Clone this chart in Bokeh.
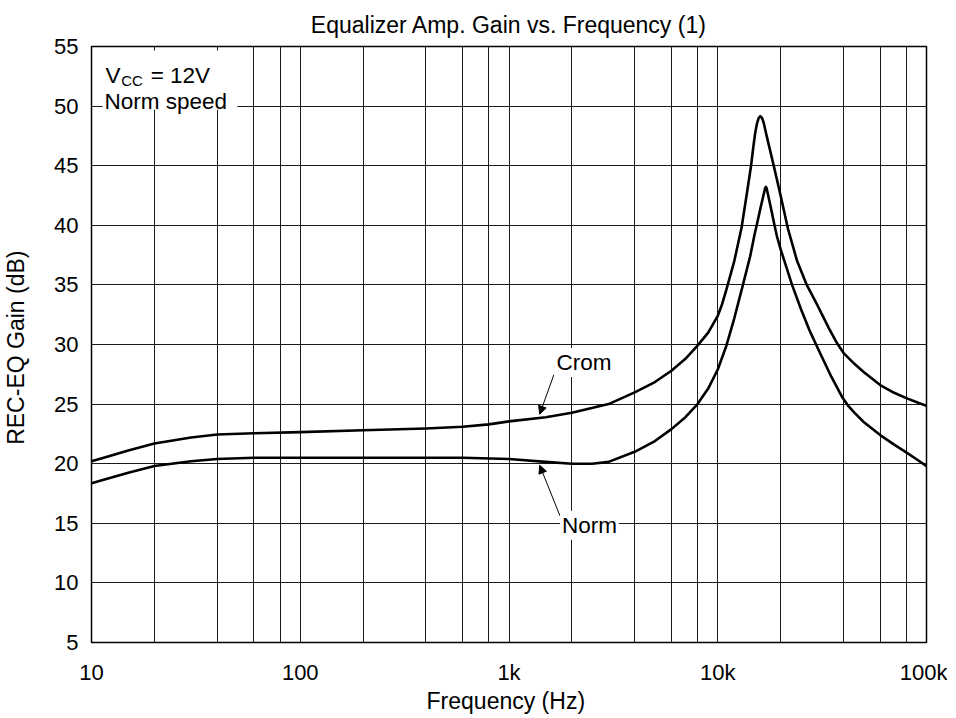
from bokeh.plotting import figure
from bokeh.models import FixedTicker, Label, Arrow, NormalHead, BoxAnnotation
from bokeh.embed import file_html
from bokeh.resources import INLINE

# ---- data ----
crom_freq = [10, 12, 15, 20, 30, 40, 60, 100, 200, 400, 600, 800, 1000, 1500,
             2000, 3000, 4000, 5000, 6000, 7000, 8000, 9000, 10000, 10500,
             11000, 12000, 13000, 13770, 14440, 14800, 15100, 15400, 15700,
             16000, 16300, 16600, 16900, 17150, 18600, 20000, 21700, 24000,
             26700, 30000, 34000, 37300, 40000, 45000, 50000, 60000, 70000,
             80000, 90000, 100000]
crom_gain = [20.2, 20.6, 21.1, 21.7, 22.2, 22.45, 22.55, 22.65, 22.8, 22.95,
             23.1, 23.3, 23.55, 23.9, 24.28, 25.0, 25.98, 26.85, 27.8, 28.8,
             29.9, 31.0, 32.4, 33.4, 34.6, 37.0, 39.8, 42.6, 45.0, 46.55,
             47.7, 48.5, 49.0, 49.16, 49.0, 48.6, 48.0, 47.5, 44.9, 42.5,
             39.7, 37.0, 35.0, 33.3, 31.4, 30.1, 29.3, 28.4, 27.7, 26.6,
             25.95, 25.5, 25.15, 24.85]

norm_freq = [10, 12, 15, 20, 30, 40, 60, 100, 200, 400, 600, 1000, 1500, 2000,
             2500, 3000, 4000, 5000, 6000, 7000, 8000, 9000, 10000, 11000,
             12000, 13200, 14300, 15000, 15500, 16000, 16400, 16700, 16850,
             17000, 17150, 17300, 17700, 18200, 18700, 19200, 20000, 22700,
             25000, 27500, 30500, 35000, 37000, 39400, 42000, 45000, 50000,
             60000, 70000, 80000, 90000, 100000]
norm_gain = [18.35, 18.75, 19.25, 19.8, 20.2, 20.4, 20.5, 20.5, 20.5, 20.5,
             20.5, 20.4, 20.15, 20.0, 20.0, 20.15, 21.0, 21.9, 22.9, 23.9,
             25.0, 26.3, 27.9, 29.9, 32.2, 35.0, 37.4, 39.2, 40.3, 41.4, 42.2,
             42.8, 43.1, 43.22, 43.1, 42.8, 42.0, 41.0, 40.0, 39.1, 38.0,
             35.0, 33.0, 31.2, 29.5, 27.3, 26.5, 25.6, 24.9, 24.3, 23.5, 22.4,
             21.6, 20.95, 20.35, 19.8]

x_ticks = [10, 100, 1000, 10000, 100000]
x_tick_labels = ["10", "100", "1k", "10k", "100k"]
x_minor = [20, 40, 60, 80, 200, 400, 600, 800, 2000, 4000, 6000, 8000,
           20000, 40000, 60000, 80000]
y_ticks = [5, 10, 15, 20, 25, 30, 35, 40, 45, 50, 55]

FONT = "Liberation Sans"

p = figure(x_axis_type="log", x_range=(10, 100000), y_range=(5, 55),
           frame_width=835, frame_height=596,
           min_border_left=84, min_border_right=21, min_border_top=46,
           min_border_bottom=60,
           output_backend="svg", toolbar_location=None,
           title="Equalizer Amp. Gain vs. Frequency (1)")

p.title.align = "center"
p.title.text_font = FONT
p.title.text_font_size = "23px"
p.title.text_font_style = "normal"
p.title.text_color = "black"
p.title.standoff = 17

p.xaxis.ticker = FixedTicker(ticks=x_ticks, minor_ticks=x_minor)
p.xaxis.major_label_overrides = dict(zip(x_ticks, x_tick_labels))
p.yaxis.ticker = FixedTicker(ticks=y_ticks)

for ax in (p.xaxis, p.yaxis):
    ax.axis_line_color = None
    ax.major_tick_line_color = None
    ax.minor_tick_line_color = None
    ax.major_label_text_font = FONT
    ax.major_label_text_font_size = "22px"
    ax.major_label_text_color = "black"
    ax.axis_label_text_font = FONT
    ax.axis_label_text_font_size = "23px"
    ax.axis_label_text_font_style = "normal"
    ax.axis_label_text_color = "black"

p.xaxis.axis_label = "Frequency  (Hz)"
p.yaxis.axis_label = "REC-EQ Gain  (dB)"
p.xaxis.major_label_standoff = 11
p.xaxis.axis_label_standoff = 0
p.yaxis.major_label_standoff = 7
p.yaxis.axis_label_standoff = 22

p.xgrid.grid_line_color = "#1a1a1a"
p.xgrid.minor_grid_line_color = "#1a1a1a"
p.ygrid.grid_line_color = "#1a1a1a"
p.xgrid.grid_line_width = 1
p.xgrid.minor_grid_line_width = 1
p.ygrid.grid_line_width = 1

p.outline_line_color = "black"
p.outline_line_width = 1.5

p.line(crom_freq, crom_gain, line_color="black", line_width=2.6,
       line_join="round")
p.line(norm_freq, norm_gain, line_color="black", line_width=2.6,
       line_join="round")

TXT = dict(text_font=FONT, text_color="black")

# condition box (top-left)
p.add_layout(BoxAnnotation(left=11.3, right=50, bottom=49.7, top=54.66,
                           fill_color="white", fill_alpha=1.0, line_color=None))
p.add_layout(Label(x=11.67, y=52.54, text="V", text_font_size="22.5px",
                   text_baseline="alphabetic", **TXT))
p.add_layout(Label(x=13.87, y=52.12, text="CC", text_font_size="15px",
                   text_baseline="alphabetic", **TXT))
p.add_layout(Label(x=19.2, y=52.54, text="= 12V", text_font_size="22.5px",
                   text_baseline="alphabetic", **TXT))
p.add_layout(Label(x=11.54, y=50.36, text="Norm speed", text_font_size="22.5px",
                   text_baseline="alphabetic", **TXT))

# curve labels with leader arrows
p.add_layout(Arrow(x_start=1641, y_start=27.47, x_end=1403, y_end=24.15,
                   line_color="black", line_width=1,
                   end=NormalHead(size=8, fill_color="black", line_color="black")))
p.add_layout(Arrow(x_start=1754, y_start=15.63, x_end=1403, y_end=19.87,
                   line_color="black", line_width=1,
                   end=NormalHead(size=8, fill_color="black", line_color="black")))
p.add_layout(Label(x=2286, y=28.49, text="Crom", text_font_size="22.5px",
                   text_align="center", text_baseline="middle",
                   background_fill_color="white", padding=2, **TXT))
p.add_layout(Label(x=2432, y=14.84, text="Norm", text_font_size="22.5px",
                   text_align="center", text_baseline="middle",
                   background_fill_color="white", padding=2, **TXT))

open("out.html", "w").write(file_html(p, INLINE))
